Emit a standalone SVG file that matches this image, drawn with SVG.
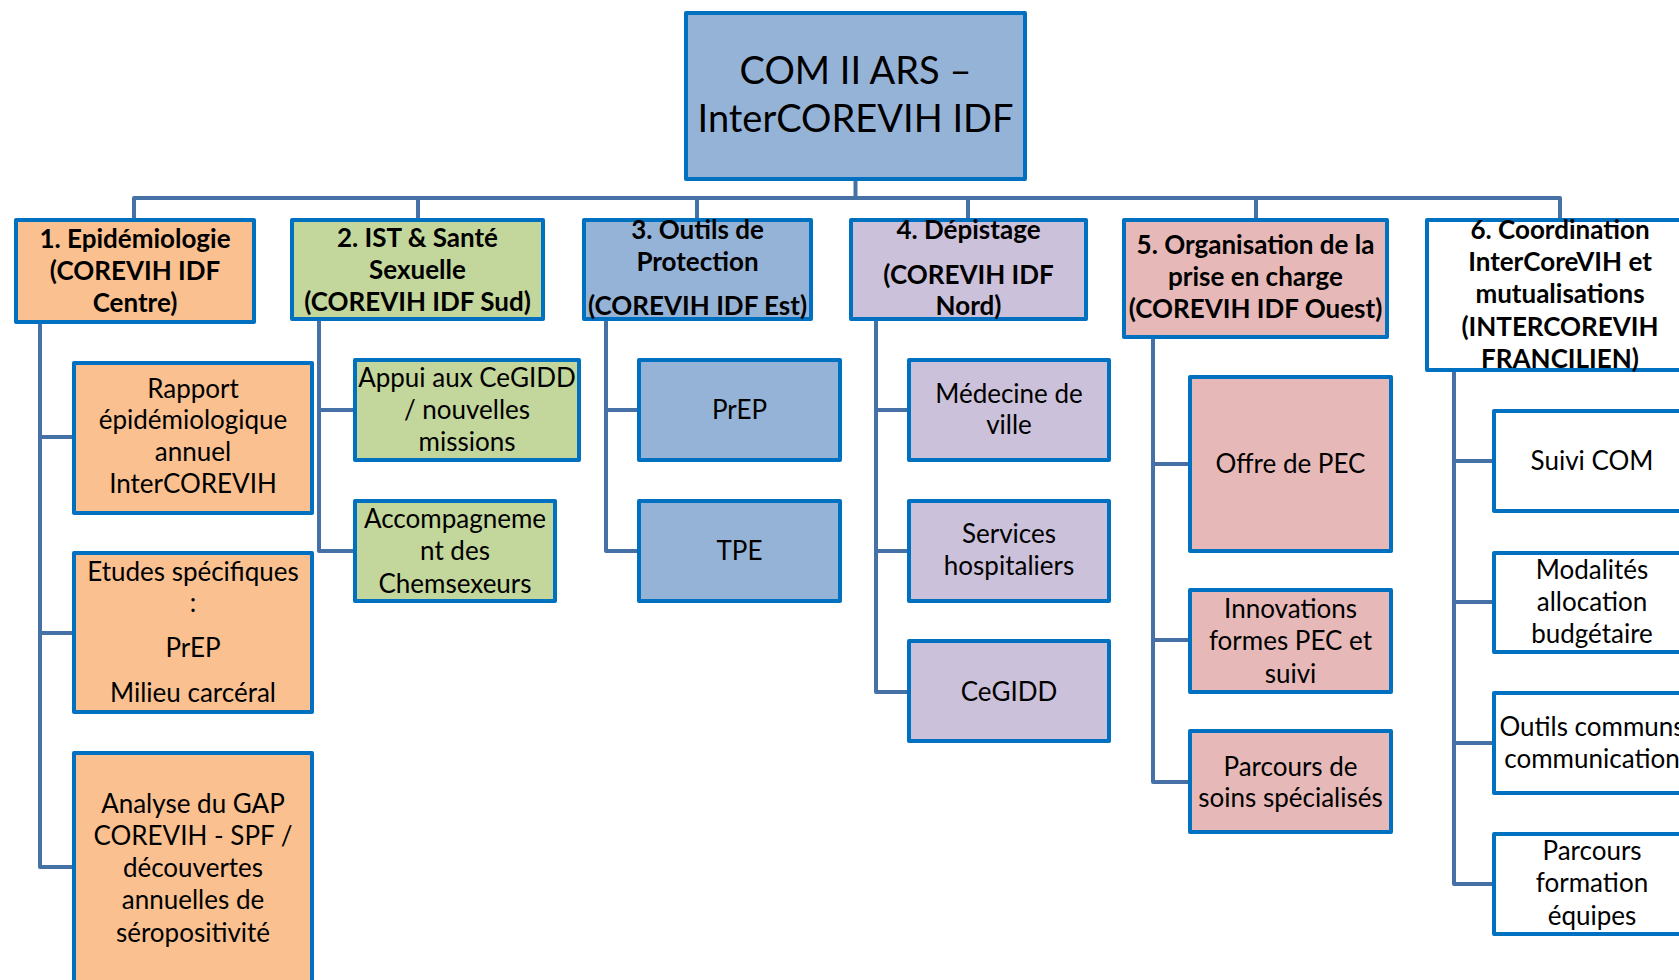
<svg xmlns="http://www.w3.org/2000/svg" width="1679" height="980" viewBox="0 0 1679 980">
<style>
.box{stroke:#0070C0;stroke-width:4;stroke-linejoin:round}
.root{fill:#95B3D7}
.c1{fill:#FAC090}
.c2{fill:#C3D69B}
.c3{fill:#95B3D7}
.c4{fill:#CCC1DA}
.c5{fill:#E6B9B8}
.c6{fill:#FFFFFF}
.conn{fill:none;stroke:#4571A6;stroke-width:4;stroke-linejoin:round}
text{font-family:Lato,"Open Sans","Liberation Sans",sans-serif;fill:#000;text-anchor:middle}
.h{font-size:26px;font-weight:bold}
.t{font-size:26px}
.r{font-size:38px}
</style>
<rect width="1679" height="980" fill="#FFFFFF"/>
<g id="connectors">
<path class="conn" d="M855.5 179V198M134 220V198H1560V220M418 198V220M697 198V220M968 198V220M1256 198V220"/>
<path class="conn" d="M40 322V867H74M40 437H74M40 633H74"/>
<path class="conn" d="M319 319V551H355M319 410H355"/>
<path class="conn" d="M606 319V551H639M606 410H639"/>
<path class="conn" d="M876 319V692H909M876 410H909M876 551H909"/>
<path class="conn" d="M1153 337V782H1190M1153 464H1190M1153 640H1190"/>
<path class="conn" d="M1454 370V884H1494M1454 461H1494M1454 602H1494M1454 743H1494"/>
</g>
<g id="root">
<rect class="box root" x="686" y="13" width="339" height="166"/>
<text class="r" x="855.5" y="84">COM II ARS –</text>
<text class="r" x="855.5" y="132">InterCOREVIH IDF</text>
</g>
<g id="n1">
<rect class="box c1" x="16" y="220" width="238" height="102"/>
<text class="h" x="135" y="248">1. Epidémiologie</text>
<text class="h" x="135" y="280">(COREVIH IDF</text>
<text class="h" x="135" y="312">Centre)</text>
</g>
<g id="n2">
<rect class="box c2" x="292" y="220" width="251" height="99"/>
<text class="h" x="417.5" y="247">2. IST &amp; Santé</text>
<text class="h" x="417.5" y="279">Sexuelle</text>
<text class="h" x="417.5" y="311">(COREVIH IDF Sud)</text>
</g>
<g id="n3">
<rect class="box c3" x="584" y="220" width="227" height="99"/>
<text class="h" x="697.5" y="239">3. Outils de</text>
<text class="h" x="697.5" y="271">Protection</text>
<text class="h" x="697.5" y="315">(COREVIH IDF Est)</text>
</g>
<g id="n4">
<rect class="box c4" x="851" y="220" width="235" height="99"/>
<text class="h" x="968.5" y="239">4. Dépistage</text>
<text class="h" x="968.5" y="284">(COREVIH IDF</text>
<text class="h" x="968.5" y="315">Nord)</text>
</g>
<g id="n5">
<rect class="box c5" x="1124" y="220" width="263" height="117"/>
<text class="h" x="1255.5" y="254">5. Organisation de la</text>
<text class="h" x="1255.5" y="286">prise en charge</text>
<text class="h" x="1255.5" y="318">(COREVIH IDF Ouest)</text>
</g>
<g id="n6">
<rect class="box c6" x="1427" y="220" width="280" height="150"/>
<text class="h" x="1560" y="239">6. Coordination</text>
<text class="h" x="1560" y="271">InterCoreVIH et</text>
<text class="h" x="1560" y="303">mutualisations</text>
<text class="h" x="1560" y="336">(INTERCOREVIH</text>
<text class="h" x="1560" y="368">FRANCILIEN)</text>
</g>
<g id="n1a">
<rect class="box c1" x="74" y="363" width="238" height="150"/>
<text class="t" x="193" y="398">Rapport</text>
<text class="t" x="193" y="429">épidémiologique</text>
<text class="t" x="193" y="461">annuel</text>
<text class="t" x="193" y="493">InterCOREVIH</text>
</g>
<g id="n1b">
<rect class="box c1" x="74" y="553" width="238" height="159"/>
<text class="t" x="193" y="581">Etudes spécifiques</text>
<text class="t" x="193" y="612">:</text>
<text class="t" x="193" y="657">PrEP</text>
<text class="t" x="193" y="702">Milieu carcéral</text>
</g>
<g id="n1c">
<rect class="box c1" x="74" y="753" width="238" height="250"/>
<text class="t" x="193" y="813">Analyse du GAP</text>
<text class="t" x="193" y="845">COREVIH - SPF /</text>
<text class="t" x="193" y="877">découvertes</text>
<text class="t" x="193" y="909">annuelles de</text>
<text class="t" x="193" y="942">séropositivité</text>
</g>
<g id="n2a">
<rect class="box c2" x="355" y="360" width="224" height="100"/>
<text class="t" x="467" y="387">Appui aux CeGIDD</text>
<text class="t" x="467" y="419">/ nouvelles</text>
<text class="t" x="467" y="451">missions</text>
</g>
<g id="n2b">
<rect class="box c2" x="355" y="501" width="200" height="100"/>
<text class="t" x="455" y="528">Accompagneme</text>
<text class="t" x="455" y="560">nt des</text>
<text class="t" x="455" y="593">Chemsexeurs</text>
</g>
<g id="n3a">
<rect class="box c3" x="639" y="360" width="201" height="100"/>
<text class="t" x="739.5" y="419">PrEP</text>
</g>
<g id="n3b">
<rect class="box c3" x="639" y="501" width="201" height="100"/>
<text class="t" x="739.5" y="560">TPE</text>
</g>
<g id="n4a">
<rect class="box c4" x="909" y="360" width="200" height="100"/>
<text class="t" x="1009" y="403">Médecine de</text>
<text class="t" x="1009" y="434">ville</text>
</g>
<g id="n4b">
<rect class="box c4" x="909" y="501" width="200" height="100"/>
<text class="t" x="1009" y="543">Services</text>
<text class="t" x="1009" y="575">hospitaliers</text>
</g>
<g id="n4c">
<rect class="box c4" x="909" y="641" width="200" height="100"/>
<text class="t" x="1009" y="701">CeGIDD</text>
</g>
<g id="n5a">
<rect class="box c5" x="1190" y="377" width="201" height="174"/>
<text class="t" x="1290.5" y="473">Offre de PEC</text>
</g>
<g id="n5b">
<rect class="box c5" x="1190" y="590" width="201" height="102"/>
<text class="t" x="1290.5" y="618">Innovations</text>
<text class="t" x="1290.5" y="650">formes PEC et</text>
<text class="t" x="1290.5" y="683">suivi</text>
</g>
<g id="n5c">
<rect class="box c5" x="1190" y="731" width="201" height="101"/>
<text class="t" x="1290.5" y="776">Parcours de</text>
<text class="t" x="1290.5" y="807">soins spécialisés</text>
</g>
<g id="n6a">
<rect class="box c6" x="1494" y="411" width="210" height="100"/>
<text class="t" x="1592" y="470">Suivi COM</text>
</g>
<g id="n6b">
<rect class="box c6" x="1494" y="553" width="210" height="99"/>
<text class="t" x="1592" y="579">Modalités</text>
<text class="t" x="1592" y="611">allocation</text>
<text class="t" x="1592" y="643">budgétaire</text>
</g>
<g id="n6c">
<rect class="box c6" x="1494" y="693" width="210" height="100"/>
<text class="t" x="1592" y="736">Outils communs</text>
<text class="t" x="1592" y="768">communication</text>
</g>
<g id="n6d">
<rect class="box c6" x="1494" y="834" width="210" height="100"/>
<text class="t" x="1592" y="860">Parcours</text>
<text class="t" x="1592" y="892">formation</text>
<text class="t" x="1592" y="925">équipes</text>
</g>
</svg>
